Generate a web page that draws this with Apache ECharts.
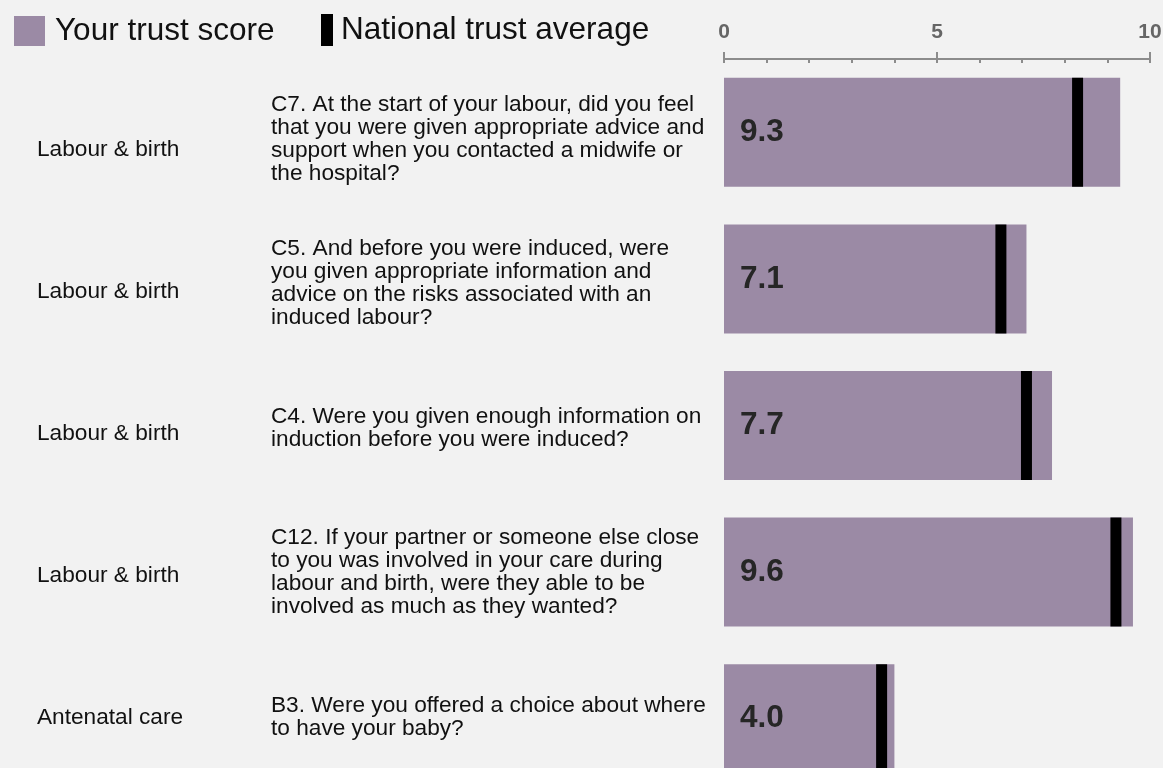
<!DOCTYPE html>
<html>
<head>
<meta charset="utf-8">
<script src="https://cdn.jsdelivr.net/npm/echarts@6/dist/echarts.min.js"></script>
<style>
html,body{margin:0;padding:0;background:#f2f2f2;}
#chart{width:1163px;height:768px;}
</style>
</head>
<body>
<div id="chart"></div>
<script>
const sections = ['Labour & birth', 'Labour & birth', 'Labour & birth', 'Labour & birth', 'Antenatal care'];
const questions = [
  'C7. At the start of your labour, did you feel\nthat you were given appropriate advice and\nsupport when you contacted a midwife or\nthe hospital?',
  'C5. And before you were induced, were\nyou given appropriate information and\nadvice on the risks associated with an\ninduced labour?',
  'C4. Were you given enough information on\ninduction before you were induced?',
  'C12. If your partner or someone else close\nto you was involved in your care during\nlabour and birth, were they able to be\ninvolved as much as they wanted?',
  'B3. Were you offered a choice about where\nto have your baby?'
];
const trustScores = [9.3, 7.1, 7.7, 9.6, 4.0];
const nationalAverages = [8.3, 6.5, 7.1, 9.2, 3.7];
const axisTickLabels = ['0', '5', '10'];

const FONT = 'Arial, "Liberation Sans", Helvetica, sans-serif';
const chart = echarts.init(document.getElementById('chart'));
chart.setOption({
  backgroundColor: '#f2f2f2',
  animation: false,
  textStyle: { fontFamily: FONT },
  legend: [
    {
      left: 14, top: 15, padding: 0, itemWidth: 31, itemHeight: 30,
      data: [{ name: 'Your trust score', icon: 'rect' }],
      textStyle: { fontSize: 31.5, color: '#111', fontFamily: FONT, padding: [0, 0, 0, 5] }
    },
    {
      left: 321, top: 14, padding: 0, itemWidth: 12, itemHeight: 32,
      data: [{ name: 'National trust average', icon: 'rect', itemStyle: { color: '#000' } }],
      textStyle: { fontSize: 31.5, color: '#111', fontFamily: FONT, padding: [0, 0, 0, 3] }
    }
  ],
  grid: [
    { left: 724, right: 13, top: 59, height: 733, outerBoundsMode: 'none', containLabel: false },
    { left: 724, right: 13, top: 79, height: 710, outerBoundsMode: 'none', containLabel: false },
    { left: 724, right: 13, top: 67, height: 722, outerBoundsMode: 'none', containLabel: false }
  ],
  xAxis: [
    {
      gridIndex: 0, type: 'value', position: 'top', min: 0, max: 10, interval: 1,
      axisLine: { show: true, lineStyle: { color: '#8c8c8c', width: 2 } },
      axisTick: { show: true, inside: true, length: 4, lineStyle: { color: '#8c8c8c', width: 2 } },
      splitLine: { show: false },
      axisLabel: {
        margin: 16, fontSize: 21, fontWeight: 'bold', color: '#666', fontFamily: FONT,
        formatter: function (v) { return axisTickLabels.indexOf(String(v)) >= 0 ? String(v) : ''; }
      }
    },
    {
      gridIndex: 0, type: 'value', position: 'top', min: 0, max: 10, interval: 5,
      axisLine: { show: false },
      axisTick: { show: true, inside: false, length: 7, lineStyle: { color: '#8c8c8c', width: 2 } },
      splitLine: { show: false },
      axisLabel: { show: false }
    },
    { gridIndex: 1, type: 'value', min: 0, max: 10, show: false },
    { gridIndex: 2, type: 'value', min: 0, max: 10, show: false }
  ],
  yAxis: [
    {
      gridIndex: 0, type: 'category', inverse: true, data: questions, position: 'left',
      axisLine: { show: false }, axisTick: { show: false }, axisLabel: { show: false }
    },
    {
      gridIndex: 1, type: 'category', inverse: true, data: sections, position: 'left',
      axisLine: { show: false }, axisTick: { show: false },
      axisLabel: { align: 'left', margin: 687, fontSize: 22.67, color: '#111', fontFamily: FONT }
    },
    {
      gridIndex: 2, type: 'category', inverse: true, data: questions, position: 'left',
      axisLine: { show: false }, axisTick: { show: false },
      axisLabel: {
        align: 'left', margin: 453, fontSize: 22.67, lineHeight: 23, color: '#111', fontFamily: FONT
      }
    }
  ],
  series: [
    {
      name: 'Your trust score', type: 'bar', xAxisIndex: 0, yAxisIndex: 0,
      data: trustScores, barWidth: 109,
      itemStyle: { color: '#9b8aa5' },
      label: {
        show: true, position: 'insideLeft', distance: 16,
        fontSize: 31.5, fontWeight: 'bold', color: '#262626', fontFamily: FONT,
        formatter: function (p) { return p.value.toFixed(1); }
      }
    },
    {
      name: 'National trust average', type: 'scatter', xAxisIndex: 0, yAxisIndex: 0,
      data: nationalAverages, symbol: 'rect', symbolSize: [11, 109], z: 5,
      itemStyle: { color: '#000', opacity: 1 }
    }
  ]
});
</script>
</body>
</html>
